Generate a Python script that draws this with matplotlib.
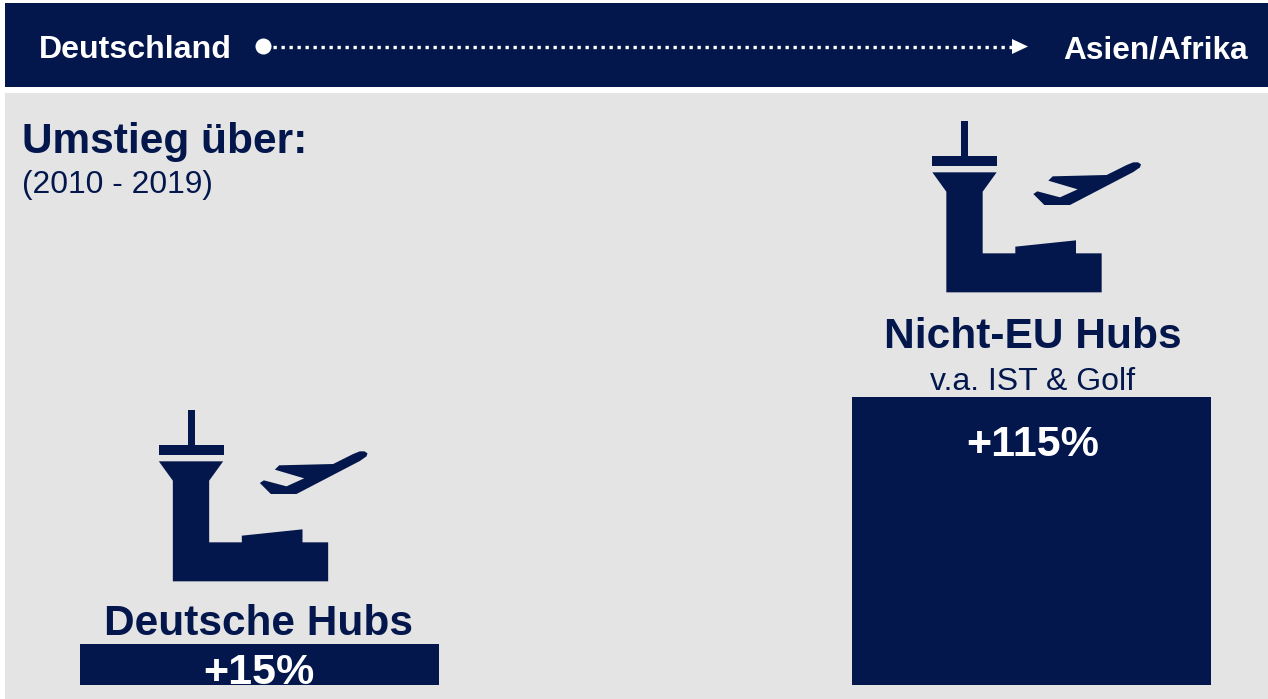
import numpy as np
import matplotlib
matplotlib.use("Agg")
import matplotlib.pyplot as plt
from matplotlib.patches import Polygon, Rectangle, Circle

plt.rcParams['font.family'] = ['Liberation Sans', 'DejaVu Sans']

NAVY = "#03174c"
GRAY = "#e4e4e4"

# data
hubs = ["Deutsche Hubs", "Nicht-EU Hubs"]
growth = [15, 115]
growth_labels = ["+15%", "+115%"]

# icon outline, pixels of the 3x crop
mast = [(183, 32), (205, 32), (205, 140), (183, 140)]
platform = [(97, 139), (291, 139), (291, 168), (97, 168)]
tower = [(97, 187), (290, 187), (248, 245), (248, 430), (346, 430), (346, 410),
         (528, 391), (528, 430), (605, 430), (605, 547), (139, 547), (139, 245)]
plane = [(445, 212), (458, 199), (620, 195), (680, 165), (700, 157), (714, 157),
         (723, 163), (720, 172), (700, 186), (510, 285), (433, 285), (400, 252),
         (412, 244), (480, 262), (533, 238)]


def draw_icon(ax, dx, dy):
    for shape in [mast, platform, tower, plane]:
        pts = [(x / 3 + dx, y / 3 + dy) for x, y in shape]
        ax.add_patch(Polygon(pts, closed=True, fc=NAVY, ec="none"))


fig = plt.figure(figsize=(12.68, 6.99), dpi=100, facecolor="white")

# whole figure in pixels, y going down
bg = fig.add_axes([0, 0, 1, 1])
bg.set_xlim(0, 1268)
bg.set_ylim(699, 0)
bg.axis("off")

bg.add_patch(Rectangle((5, 3), 1263, 84, fc=NAVY, ec="none"))
bg.add_patch(Rectangle((5, 93), 1263, 606, fc=GRAY, ec="none"))

# route line in the header
bg.plot([273, 1014], [46.5, 46.5], color="white", lw=2.4, linestyle=(0, (1, 1.4)))
bg.add_patch(Circle((263.5, 46.5), 8, fc="white", ec="none"))
bg.add_patch(Polygon([(1012, 39), (1028, 46.5), (1012, 54)], closed=True, fc="white", ec="none"))
bg.text(39, 47, "Deutschland", color="white", fontsize=23.1, fontweight="bold", va="center_baseline")
bg.text(1248, 47, "Asien/Afrika", color="white", fontsize=22.8, fontweight="bold", va="center_baseline", ha="right")

bg.text(22, 137, "Umstieg über:", color=NAVY, fontsize=30.5, fontweight="bold", va="center_baseline")
bg.text(22, 182, "(2010 - 2019)", color=NAVY, fontsize=22.9, va="center_baseline")

draw_icon(bg, 900, 110)
draw_icon(bg, 126.5, 399)

# bars, from the value scale
ax = fig.add_axes([0, (699 - 685) / 699, 1, (685 - 397) / 699])
ax.patch.set_alpha(0)
ax.axis("off")
ax.set_xlim(0, 1268)
base = -1.62
ax.set_ylim(base, growth[1])
centers = [259, 1031.5]
ax.bar(centers, np.array(growth) - base, bottom=base, width=359, color=NAVY)

bg.text(259, 619.5, hubs[0], color=NAVY, fontsize=30.5, fontweight="bold", ha="center", va="center_baseline")
bg.text(1033, 333, hubs[1], color=NAVY, fontsize=30.6, fontweight="bold", ha="center", va="center_baseline")
bg.text(1033, 378, "v.a. IST & Golf", color=NAVY, fontsize=23, ha="center", va="center_baseline")

fig.text(259 / 1268, 1 - 668 / 699, growth_labels[0], color="white", fontsize=31, fontweight="bold", ha="center", va="center_baseline")
fig.text(1033 / 1268, 1 - 441 / 699, growth_labels[1], color="white", fontsize=31, fontweight="bold", ha="center", va="center_baseline")

fig.savefig("out.png", dpi=100)
